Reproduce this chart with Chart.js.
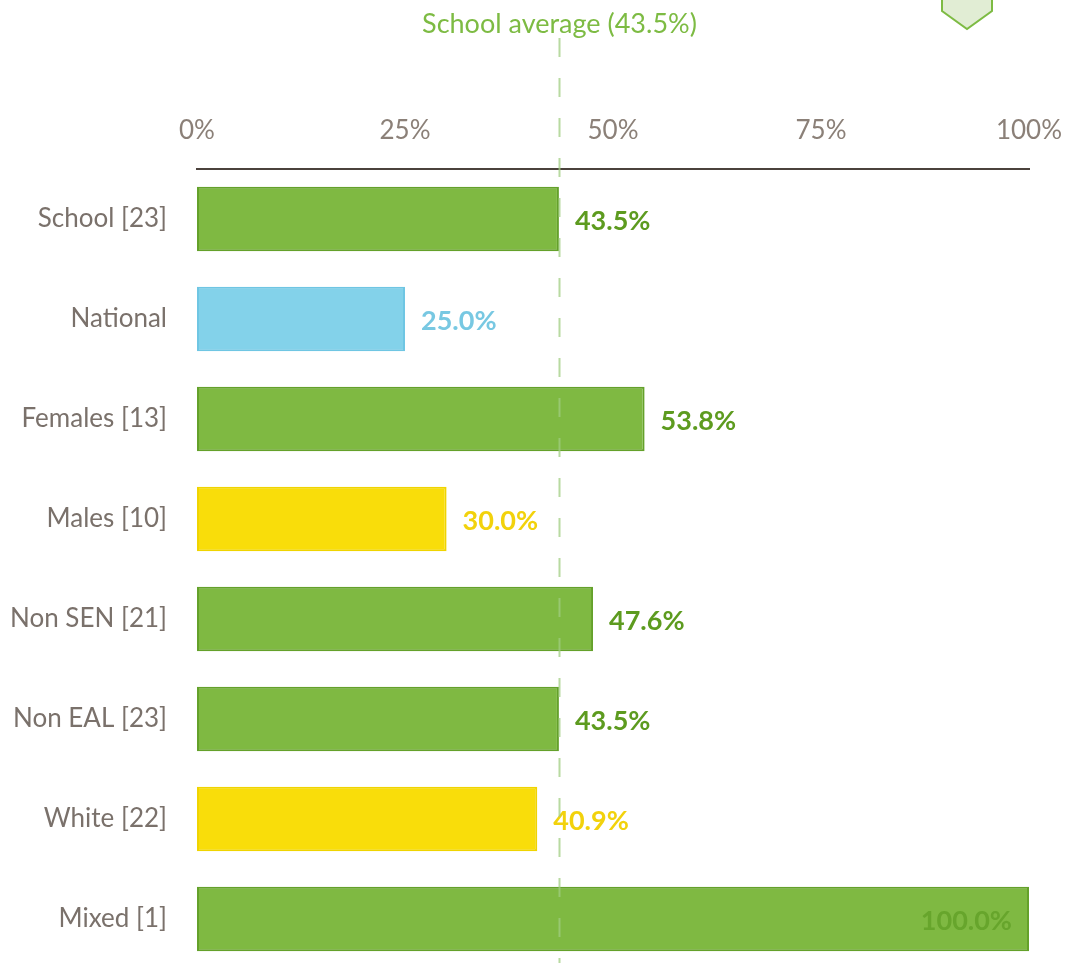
<!DOCTYPE html>
<html>
<head>
<meta charset="utf-8">
<script src="https://cdn.jsdelivr.net/npm/chart.js@4.4.1/dist/chart.umd.min.js"></script>
<style>
html,body{margin:0;padding:0;background:#fff;overflow:hidden;}
#wrap{position:absolute;left:0;top:0;width:1072px;height:969px;}
</style>
</head>
<body>
<div id="wrap"><canvas id="c" width="1072" height="969"></canvas></div>
<script>
const categories = ['School [23]','National','Females [13]','Males [10]','Non SEN [21]','Non EAL [23]','White [22]','Mixed [1]'];
const values = [43.5, 25.0, 53.8, 30.0, 47.6, 43.5, 40.9, 100.0];
const xTicks = [0, 25, 50, 75, 100];
const schoolAverage = 43.5;
const nationalLabel = 'National';

const FONT = 'Lato, "Noto Sans", sans-serif';
const GREEN = {fill:'#7fb942', border:'#64a12a', text:'#5d9b1f'};
const BLUE = {fill:'#83d2ea', border:'#6fc6e3', text:'#78c8e2'};
const YELLOW = {fill:'#f9dd0a', border:'#f0d400', text:'#f2d20c'};
function styleFor(i){
  if (categories[i] === nationalLabel) return BLUE;
  return values[i] >= schoolAverage ? GREEN : YELLOW;
}
function zeroPad(s){ s.paddingLeft = 0; s.paddingRight = 0; s.paddingTop = 0; s.paddingBottom = 0; }

const overlay = {
  id:'overlay',
  afterDatasetsDraw(chart){
    const ctx = chart.ctx, xs = chart.scales.x, ca = chart.chartArea;
    const meta = chart.getDatasetMeta(0);
    ctx.save();
    ctx.font = 'bold 27px ' + FONT;
    ctx.textBaseline = 'middle';
    meta.data.forEach((bar, i) => {
      const st = styleFor(i);
      const txt = values[i].toFixed(1) + '%';
      const w = ctx.measureText(txt).width;
      if (bar.x + 16 + w > ca.right) {
        ctx.textAlign = 'right';
        ctx.fillStyle = '#67a52c';
        ctx.fillText(txt, bar.x - 17, bar.y + 2);
      } else {
        ctx.textAlign = 'left';
        ctx.fillStyle = st.text;
        ctx.fillText(txt, bar.x + 16, bar.y + 2);
      }
    });
    ctx.restore();
    const ax = Math.round(xs.getPixelForValue(schoolAverage)) + 0.5;
    ctx.save();
    ctx.strokeStyle = 'rgba(160,205,130,0.75)';
    ctx.lineWidth = 2;
    ctx.setLineDash([19, 21]);
    ctx.beginPath();
    ctx.moveTo(ax, 38);
    ctx.lineTo(ax, chart.height);
    ctx.stroke();
    ctx.restore();
    ctx.save();
    ctx.beginPath();
    ctx.rect(0, 12, chart.width, 60);
    ctx.clip();
    ctx.font = '27px ' + FONT;
    ctx.fillStyle = '#7dbb43';
    ctx.textAlign = 'center';
    ctx.textBaseline = 'alphabetic';
    ctx.fillText('School average (' + schoolAverage.toFixed(1) + '%)', ax, 33);
    ctx.restore();
    const mx = ca.right - 62;
    ctx.save();
    ctx.beginPath();
    ctx.moveTo(mx - 25, -20);
    ctx.lineTo(mx - 25, 11);
    ctx.lineTo(mx, 29);
    ctx.lineTo(mx + 25, 11);
    ctx.lineTo(mx + 25, -20);
    ctx.closePath();
    ctx.fillStyle = '#e1edd4';
    ctx.fill();
    ctx.strokeStyle = '#7dbb43';
    ctx.lineWidth = 2;
    ctx.stroke();
    ctx.restore();
  }
};

new Chart(document.getElementById('c'), {
  type: 'bar',
  data: {
    labels: categories,
    datasets: [{
      data: values,
      backgroundColor: values.map((v,i) => styleFor(i).fill),
      borderColor: values.map((v,i) => styleFor(i).border),
      borderWidth: 2,
      borderSkipped: false,
      barPercentage: 0.645,
      categoryPercentage: 1
    }]
  },
  options: {
    indexAxis: 'y',
    responsive: false,
    animation: false,
    events: [],
    layout: {padding: {left: 0, right: 43, top: 0, bottom: 0}},
    plugins: {legend: {display: false}, tooltip: {enabled: false}},
    scales: {
      x: {
        position: 'top',
        min: 0, max: 100,
        afterBuildTicks(s){ s.ticks = xTicks.map(v => ({value: v})); },
        afterFit(s){ s.height = 169; zeroPad(s); },
        grid: {display: false, drawTicks: false},
        border: {display: true, color: '#4b423c', width: 2},
        ticks: {
          callback: v => v + '%',
          color: '#8b8078',
          font: {family: FONT, size: 26},
          padding: 23,
          maxRotation: 0
        }
      },
      y: {
        afterFit(s){ s.width = 197; zeroPad(s); },
        grid: {display: false, drawTicks: false},
        border: {display: false},
        ticks: {
          color: '#7a716b',
          font: {family: FONT, size: 26},
          padding: 30
        }
      }
    }
  },
  plugins: [overlay]
});
</script>
</body>
</html>
